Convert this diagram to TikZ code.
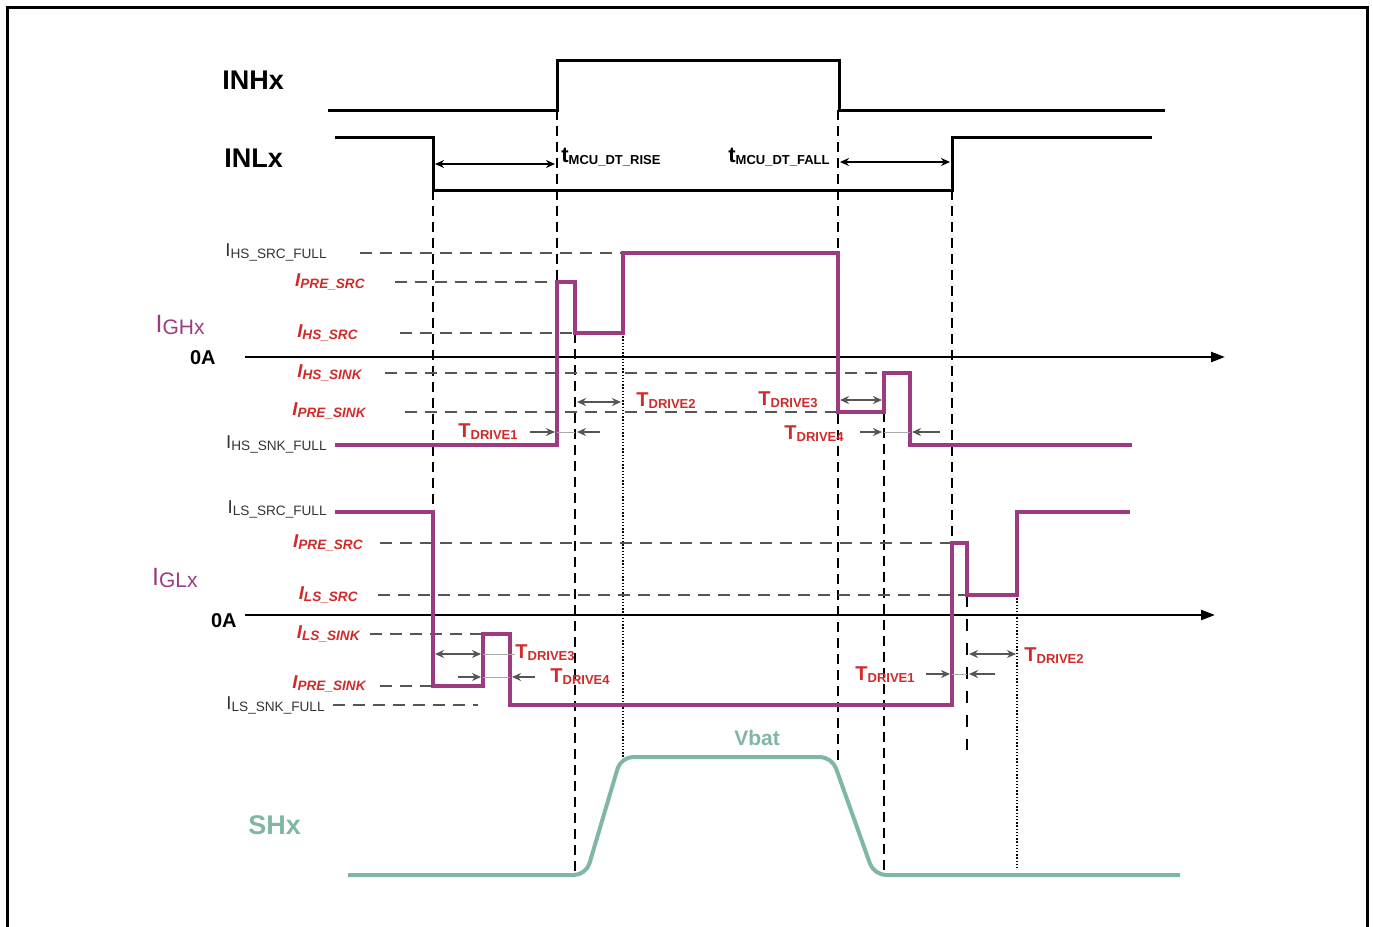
\documentclass[tikz,border=0pt]{standalone}
\usepackage{fontspec}
\setmainfont{Liberation Sans}
\usepackage{tikz}
\usetikzlibrary{arrows.meta}
\definecolor{wavepink}{HTML}{9C3B80}
\definecolor{waveteal}{HTML}{7FB7A3}
\definecolor{labelred}{HTML}{D02A2A}
\definecolor{inkgray}{HTML}{333333}
\definecolor{guidegray}{HTML}{555555}
\newcommand{\sublabel}[3][6.8]{#2\raisebox{-1pt}{\fontsize{#1}{#1}\selectfont #3}}

\begin{document}
\begin{tikzpicture}[
    x=0.5pt, y=-0.5pt,
    logic/.style={line width=1.5pt, black},
    pinkwave/.style={line width=2pt, wavepink},
    tealwave/.style={line width=2pt, waveteal, rounded corners=6pt},
    guide/.style={guidegray, line width=0.6pt, dash pattern=on 6pt off 4pt},
    timeline/.style={black, line width=0.8pt, dash pattern=on 5pt off 3pt},
    sparseline/.style={black, line width=0.7pt, dash pattern=on 6pt off 6pt},
    dotline/.style={black, line width=0.8pt, dash pattern=on 0.7pt off 0.9pt},
    zeroaxis/.style={line width=1.2pt, -{Triangle[length=7pt,width=5pt]}},
    span/.style={guidegray, line width=0.8pt, {Stealth[length=4.5pt,width=4pt]}-{Stealth[length=4.5pt,width=4pt]}},
    pointer/.style={guidegray, line width=0.8pt, -{Stealth[length=4.5pt,width=4pt]}},
    tick/.style={guidegray!50, line width=0.4pt},
    signame/.style={font=\fontsize{13.5}{15}\selectfont\bfseries, inner sep=0pt, anchor=west},
    curname/.style={text=wavepink, font=\fontsize{12.5}{14}\selectfont, inner sep=0pt, anchor=east},
    zeroname/.style={font=\fontsize{10}{12}\selectfont\bfseries, inner sep=0pt, anchor=east},
    fulllabel/.style={text=inkgray, font=\fontsize{9.3}{11}\selectfont, inner sep=0pt, anchor=east},
    redlabel/.style={text=labelred, font=\fontsize{9.3}{11}\selectfont\bfseries\itshape, inner sep=0pt, anchor=east},
    drivelabel/.style={text=labelred, font=\fontsize{10}{12}\selectfont\bfseries, inner sep=0pt, anchor=west},
    dtlabel/.style={font=\fontsize{11}{12}\selectfont\bfseries, inner sep=0pt},
    tealname/.style={text=waveteal, font=\bfseries, inner sep=0pt}
]
  \useasboundingbox (0,0) rectangle (1373,927);
  \draw[line width=1.5pt] (7,927) -- (7,7) -- (1367,7) -- (1367,927);

  \node[signame] (inh) at (222,80) {INHx};
  \node[signame] (inl) at (224,158) {INLx};
  \draw[logic] (328,110) -- (557,110) -- (557,60) -- (839,60) -- (839,110) -- (1165,110);
  \draw[logic] (335,137) -- (433,137) -- (433,190) -- (952,190) -- (952,137) -- (1152,137);

  \draw[timeline] (433,190) -- (433,512);
  \draw[timeline] (557,110) -- (557,445);
  \draw[timeline] (575,333) -- (575,875);
  \draw[dotline] (623,333) -- (623,757);
  \draw[timeline] (838,110) -- (838,760);
  \draw[timeline] (884,412) -- (884,875);
  \draw[timeline] (952,190) -- (952,705);
  \draw[sparseline] (967,595) -- (967,750);
  \draw[dotline] (1017,595) -- (1017,870);

  \draw[span, black] (435,164) -- (555,164);
  \draw[span, black] (840,162) -- (950,162);
  \node[dtlabel, anchor=west] (dtrise) at (561,157) {\sublabel[6.5]{t}{MCU\_DT\_RISE}};
  \node[dtlabel, anchor=east] (dtfall) at (830,157) {\sublabel[6.5]{t}{MCU\_DT\_FALL}};

  \node[fulllabel] (hsfull) at (327,252) {\sublabel{I}{HS\_SRC\_FULL}};
  \node[redlabel] (hspre) at (365,282) {\sublabel{I}{PRE\_SRC}};
  \node[curname] (igh) at (205,325) {\sublabel[10.5]{I}{GHx}};
  \node[redlabel] (hssrc) at (358,333) {\sublabel{I}{HS\_SRC}};
  \node[zeroname] (zeroh) at (216,358) {0A};
  \node[redlabel] (hssink) at (362,373) {\sublabel{I}{HS\_SINK}};
  \node[redlabel] (hspresink) at (366,411) {\sublabel{I}{PRE\_SINK}};
  \node[fulllabel] (hssnk) at (327,444) {\sublabel{I}{HS\_SNK\_FULL}};

  \draw[guide] (360,253) -- (623,253);
  \draw[guide] (395,282) -- (557,282);
  \draw[guide] (400,333) -- (575,333);
  \draw[guide] (385,373) -- (884,373);
  \draw[guide] (405,412) -- (838,412);
  \draw[zeroaxis] (245,357) -- (1225,357);

  \draw[pinkwave] (335,445) -- (557,445) -- (557,282) -- (575,282) -- (575,333) -- (623,333)
    -- (623,253) -- (838,253) -- (838,412) -- (884,412) -- (884,373) -- (910,373) -- (910,445) -- (1132,445);

  \draw[pointer] (530,432) -- (555,432);
  \draw[tick] (557,432) -- (575,432);
  \draw[pointer] (600,432) -- (577,432);
  \draw[span] (577,402) -- (621,402);
  \draw[span] (840,400) -- (882,400);
  \draw[pointer] (860,432) -- (882,432);
  \draw[tick] (884,432) -- (910,432);
  \draw[pointer] (940,432) -- (912,432);
  \node[drivelabel] (hd1) at (458,432) {\sublabel[6.5]{T}{DRIVE1}};
  \node[drivelabel] (hd2) at (636,401) {\sublabel[6.5]{T}{DRIVE2}};
  \node[drivelabel] (hd3) at (758,400) {\sublabel[6.5]{T}{DRIVE3}};
  \node[drivelabel] (hd4) at (784,434) {\sublabel[6.5]{T}{DRIVE4}};

  \node[fulllabel] (lsfull) at (327,509) {\sublabel{I}{LS\_SRC\_FULL}};
  \node[redlabel] (lspre) at (363,543) {\sublabel{I}{PRE\_SRC}};
  \node[curname] (igl) at (198,578) {\sublabel[10.5]{I}{GLx}};
  \node[redlabel] (lssrc) at (358,595) {\sublabel{I}{LS\_SRC}};
  \node[zeroname] (zerol) at (237,621) {0A};
  \node[redlabel] (lssink) at (360,634) {\sublabel{I}{LS\_SINK}};
  \node[redlabel] (lspresink) at (366,684) {\sublabel{I}{PRE\_SINK}};
  \node[fulllabel] (lssnk) at (325,705) {\sublabel{I}{LS\_SNK\_FULL}};

  \draw[guide] (380,543) -- (952,543);
  \draw[guide] (378,595) -- (967,595);
  \draw[guide] (370,634) -- (483,634);
  \draw[guide] (380,686) -- (433,686);
  \draw[guide] (333,705) -- (478,705);
  \draw[zeroaxis] (245,615) -- (1215,615);

  \draw[pinkwave] (335,512) -- (433,512) -- (433,686) -- (483,686) -- (483,634) -- (510,634) -- (510,705)
    -- (952,705) -- (952,543) -- (967,543) -- (967,595) -- (1017,595) -- (1017,512) -- (1130,512);

  \draw[span] (435,654) -- (481,654);
  \draw[tick] (483,654) -- (515,654);
  \draw[pointer] (458,677) -- (481,677);
  \draw[tick] (483,677) -- (510,677);
  \draw[pointer] (535,677) -- (512,677);
  \draw[pointer] (926,674) -- (950,674);
  \draw[tick] (952,674) -- (967,674);
  \draw[pointer] (995,674) -- (969,674);
  \draw[span] (969,654) -- (1016,654);
  \node[drivelabel] (ld3) at (515,653) {\sublabel[6.5]{T}{DRIVE3}};
  \node[drivelabel] (ld4) at (550,677) {\sublabel[6.5]{T}{DRIVE4}};
  \node[drivelabel] (ld1) at (855,675) {\sublabel[6.5]{T}{DRIVE1}};
  \node[drivelabel] (ld2) at (1024,656) {\sublabel[6.5]{T}{DRIVE2}};

  \draw[tealwave] (348,875) -- (586,875) -- (621,757) -- (832,757) -- (874,875) -- (1180,875);
  \node[tealname, font=\fontsize{10.5}{12}\selectfont\bfseries] (vbat) at (757,738) {Vbat};
  \node[tealname, font=\fontsize{13.5}{15}\selectfont\bfseries, anchor=west] (shx) at (248,825) {SHx};
\end{tikzpicture}
\end{document}
